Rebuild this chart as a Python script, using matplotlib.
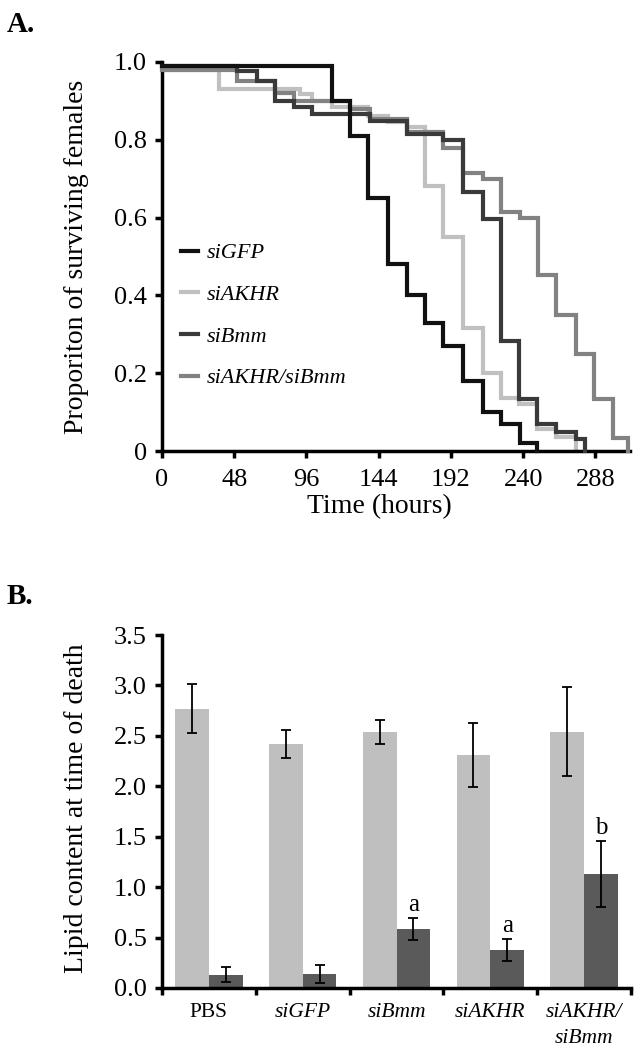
import matplotlib
matplotlib.use('Agg')
import matplotlib.pyplot as plt

plt.rcParams['font.family'] = ['Liberation Serif', 'DejaVu Serif']

# ---- panel A: survival curves (time in hours, proportion surviving) ----
t_gfp = [0, 113, 125, 137, 150, 163, 175, 187, 200, 213, 225, 238, 249]
s_gfp = [0.99, 0.90, 0.81, 0.65, 0.48, 0.40, 0.33, 0.27, 0.18, 0.10, 0.07, 0.02, 0.0]

t_akhr = [0, 38, 92, 100, 113, 137, 150, 163, 175, 187, 200, 213, 225, 237, 249, 262, 275]
s_akhr = [0.98, 0.93, 0.917, 0.90, 0.885, 0.861, 0.845, 0.832, 0.68, 0.55, 0.315, 0.20, 0.135,
          0.12, 0.057, 0.035, 0.0]

t_bmm = [0, 50, 63, 75, 88, 100, 138, 163, 187, 200, 213, 225, 237, 249, 262, 275, 281]
s_bmm = [0.99, 0.977, 0.95, 0.90, 0.885, 0.866, 0.848, 0.814, 0.80, 0.667, 0.597, 0.284, 0.134,
         0.07, 0.05, 0.03, 0.0]

t_both = [0, 50, 75, 88, 125, 138, 163, 187, 200, 213, 225, 238, 250, 262, 275, 287, 300, 310]
s_both = [0.98, 0.95, 0.92, 0.90, 0.88, 0.853, 0.82, 0.78, 0.715, 0.70, 0.615, 0.60, 0.452,
          0.349, 0.25, 0.134, 0.034, 0.0]

xticks_a = [0, 48, 96, 144, 192, 240, 288]

# ---- panel B: lipid content at time of death ----
groups = ['PBS', 'siGFP', 'siBmm', 'siAKHR', 'siAKHR/\nsiBmm']
light_vals = [2.77, 2.42, 2.54, 2.31, 2.54]
light_err = [0.24, 0.135, 0.12, 0.32, 0.44]
dark_vals = [0.13, 0.14, 0.585, 0.375, 1.13]
dark_err = [0.075, 0.09, 0.11, 0.11, 0.33]
sig_letters = ['', '', 'a', 'a', 'b']


def main():
    fig = plt.figure(figsize=(6.4, 10.5), dpi=100)
    W, H = 640., 1050.

    # panel A
    ax = fig.add_axes([162/W, 1-451/H, (630-162)/W, (451-62)/H])
    lw = 3.0
    curves = [('siGFP', t_gfp, s_gfp, '#111111', 5),
              ('siAKHR', t_akhr, s_akhr, '#c0c0c0', 2),
              ('siBmm', t_bmm, s_bmm, '#3a3a3a', 4),
              ('siAKHR/siBmm', t_both, s_both, '#828282', 3)]
    handles = []
    for name, t, s, c, z in curves:
        h, = ax.step(t, s, where='post', color=c, lw=lw, zorder=z, clip_on=False,
                     label=name, solid_joinstyle='miter')
        handles.append(h)
    ax.set_xlim(0, 311)
    ax.set_ylim(0, 1.0)
    ax.set_xticks(xticks_a)
    ax.set_yticks([0, 0.2, 0.4, 0.6, 0.8, 1.0])
    ax.set_yticklabels(['0', '0.2', '0.4', '0.6', '0.8', '1.0'])
    for sp in ['top', 'right']:
        ax.spines[sp].set_visible(False)
    for sp in ['left', 'bottom']:
        ax.spines[sp].set_linewidth(2.5)
    ax.tick_params(direction='out', length=5, width=2.5, labelsize=19, pad=6)
    ax.tick_params(axis='x', pad=8)
    ax.set_ylabel('Proporiton of surviving females', fontsize=20)
    ax.yaxis.set_label_coords(-0.155, 0.5)
    ax.set_xlabel('Time (hours)', fontsize=20)
    ax.xaxis.set_label_coords(0.464, -0.11)
    ax.legend(handles=handles, loc='upper left', bbox_to_anchor=(0.04, 0.535),
              frameon=False, borderaxespad=0, borderpad=0, handlelength=0.8,
              handletextpad=0.35, labelspacing=0.95, prop={'size': 16, 'style': 'italic'})

    # panel B
    bx = fig.add_axes([162/W, 1-988/H, (631-162)/W, (988-635)/H])
    x = list(range(len(groups)))
    bw = 0.36
    xl = [i - bw/2 for i in x]
    xd = [i + bw/2 for i in x]
    ekw = dict(ecolor='black', elinewidth=1.3, capsize=3.5, capthick=1.3)
    bx.bar(xl, light_vals, bw, color='#bfbfbf', yerr=light_err, error_kw=ekw)
    bx.bar(xd, dark_vals, bw, color='#5a5a5a', yerr=dark_err, error_kw=ekw)
    for i in x:
        if sig_letters[i]:
            bx.text(xd[i], dark_vals[i] + dark_err[i] + 0.02, sig_letters[i],
                    ha='center', va='bottom', fontsize=18)
    bx.set_xlim(-0.5, 4.5)
    bx.set_ylim(0, 3.5)
    bx.set_yticks([0, 0.5, 1.0, 1.5, 2.0, 2.5, 3.0, 3.5])
    bx.set_yticklabels(['0.0', '0.5', '1.0', '1.5', '2.0', '2.5', '3.0', '3.5'])
    bx.set_xticks([i - 0.5 for i in range(len(groups) + 1)])
    bx.set_xticklabels([])
    bx.set_xticks(x, minor=True)
    bx.set_xticklabels(groups, minor=True, fontsize=15.5, linespacing=1.45)
    for lab in bx.get_xticklabels(minor=True):
        if lab.get_text() != 'PBS':
            lab.set_fontstyle('italic')
    for sp in ['top', 'right']:
        bx.spines[sp].set_visible(False)
    for sp in ['left', 'bottom']:
        bx.spines[sp].set_linewidth(2.5)
    bx.tick_params(which='major', direction='out', length=5, width=2.5, labelsize=19, pad=6)
    bx.tick_params(axis='x', which='minor', length=0, pad=11)
    bx.set_ylabel('Lipid content at time of death', fontsize=20)
    bx.yaxis.set_label_coords(-0.155, 0.51)

    fig.text(7/W, 1-11/H, 'A.', fontsize=21, fontweight='bold', va='top')
    fig.text(7/W, 1-583/H, 'B.', fontsize=21, fontweight='bold', va='top')

    fig.savefig('out.png', dpi=100)


if __name__ == '__main__':
    main()
